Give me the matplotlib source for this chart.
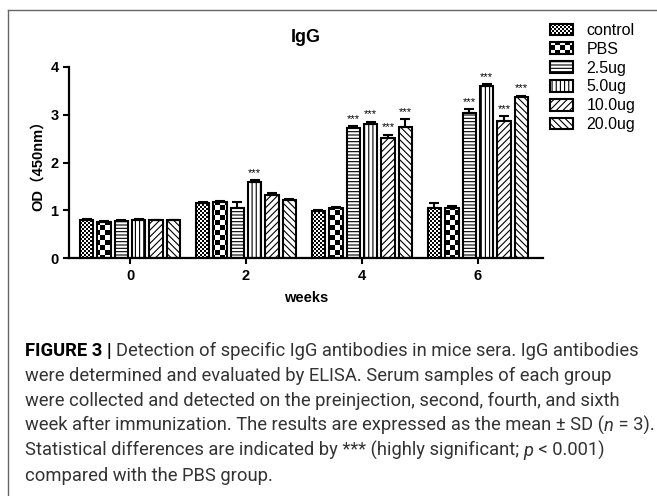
import numpy as np
import matplotlib
matplotlib.use('Agg')
import matplotlib.pyplot as plt
import matplotlib.hatch as mhatch
from matplotlib.path import Path
from matplotlib.lines import Line2D

# data
weeks = [0, 2, 4, 6]
groups = ['control', 'PBS', '2.5ug', '5.0ug', '10.0ug', '20.0ug']
control = [0.80, 1.16, 0.99, 1.06]
pbs = [0.76, 1.17, 1.06, 1.06]
ug2_5 = [0.77, 1.05, 2.72, 3.04]
ug5_0 = [0.80, 1.60, 2.80, 3.60]
ug10_0 = [0.79, 1.33, 2.51, 2.86]
ug20_0 = [0.79, 1.21, 2.75, 3.36]
sd_control = [0.03, 0.02, 0.02, 0.09]
sd_pbs = [0.02, 0.02, 0.02, 0.03]
sd_2_5 = [0.02, 0.12, 0.04, 0.07]
sd_5_0 = [0.02, 0.03, 0.05, 0.03]
sd_10_0 = [0.02, 0.04, 0.07, 0.11]
sd_20_0 = [0.02, 0.02, 0.15, 0.03]
# True where the bar gets "***"
sig = [
    [False, False, False, False],
    [False, False, False, False],
    [False, False, True, True],
    [False, True, True, True],
    [False, False, True, True],
    [False, False, True, True],
]

W, H = 657, 496
LW_HATCH = 0.8
plt.rcParams['hatch.linewidth'] = LW_HATCH
plt.rcParams['hatch.color'] = 'black'


# checkerboard hatch, takes the place of the 'O' pattern
class CheckerHatch(mhatch.HatchPatternBase):
    def __init__(self, hatch, density):
        n = hatch.count('O') * 10
        self.n = n
        self.cells = [(i, j) for i in range(n) for j in range(n) if (i + j) % 2 == 0]
        self.num_vertices = len(self.cells) * 5

    def set_vertices_and_codes(self, vertices, codes):
        s = 1.0 / self.n
        d = LW_HATCH * 100 / 72 / 2 / 100
        for k, (i, j) in enumerate(self.cells):
            x0, y0 = i * s + d, j * s + d
            x1, y1 = (i + 1) * s - d, (j + 1) * s - d
            vertices[5 * k:5 * k + 5] = [(x0, y0), (x1, y0), (x1, y1), (x0, y1), (x0, y0)]
            codes[5 * k:5 * k + 5] = [Path.MOVETO, Path.LINETO, Path.LINETO,
                                      Path.LINETO, Path.CLOSEPOLY]


mhatch._hatch_types[mhatch._hatch_types.index(mhatch.LargeCircles)] = CheckerHatch

values = [control, pbs, ug2_5, ug5_0, ug10_0, ug20_0]
sds = [sd_control, sd_pbs, sd_2_5, sd_5_0, sd_10_0, sd_20_0]
hatches = ['OOOOO', 'OO', '-----', '||||', '/////', '\\\\\\\\\\']

fig = plt.figure(figsize=(W / 100, H / 100), dpi=100)
ax = fig.add_axes([69 / W, 237.7 / H, (542.7 - 69) / W, (429.3 - 237.7) / H])

bold = dict(family=['Liberation Sans', 'Noto Sans CJK SC'], weight='bold')
x = np.array(weeks, dtype=float)
step, bw = 0.30, 0.23
for k in range(6):
    xs = x + (k - 2.5) * step
    ax.bar(xs, values[k], width=bw, color='white', edgecolor='black',
           linewidth=1.5, hatch=hatches[k], label=groups[k], zorder=2)
    ax.errorbar(xs, values[k], yerr=[np.zeros(4), sds[k]], fmt='none',
                ecolor='black', elinewidth=1.5, capsize=3.5, capthick=1.5, zorder=3)
    for i in range(4):
        if sig[k][i]:
            ax.text(xs[i], values[k][i] + sds[k][i] + 0.05, '***', ha='center',
                    va='bottom', fontsize=8, family='Liberation Sans')

ax.set_xlim(-1.052, 7.116)
ax.set_ylim(0, 4)
ax.set_xticks(weeks)
ax.set_yticks([0, 1, 2, 3, 4])
for s in ['top', 'right']:
    ax.spines[s].set_visible(False)
for s in ['left', 'bottom']:
    ax.spines[s].set_linewidth(1.6)
ax.tick_params(width=1.5, length=4, labelsize=10.5)
for lab in ax.get_xticklabels() + ax.get_yticklabels():
    lab.set_fontweight('bold')
    lab.set_family('Liberation Sans')
ax.set_ylabel('OD（450nm）', fontsize=10.5, **bold)
ax.yaxis.set_label_coords(-0.05, 0.5)
ax.set_xlabel('weeks', fontsize=10.5, **bold)
ax.xaxis.set_label_coords(0.5, -0.17)
fig.text(306 / W, 1 - 38 / H, 'IgG', ha='center', va='center', fontsize=13, **bold)

ax.legend(loc='upper left', bbox_to_anchor=(550 / W, 1 - 23 / H),
          bbox_transform=fig.transFigure, frameon=False, borderpad=0,
          borderaxespad=0, handlelength=1.45, handleheight=0.75,
          handletextpad=0.85, labelspacing=0.24,
          prop=dict(family='Liberation Sans', size=11.5))

# outer frame
fig.add_artist(Line2D([7.5 / W, 7.5 / W], [0, 1 - 10 / H], color='#666666', lw=1))
fig.add_artist(Line2D([7.5 / W, 1], [1 - 10 / H, 1 - 10 / H], color='#666666', lw=1))

# caption
cap_font = 'Roboto'
cap_color = '#333333'
renderer = fig.canvas.get_renderer()
lines = [
    [('FIGURE 3 | ', 'b'), ('Detection of specific IgG antibodies in mice sera. IgG antibodies', 'r')],
    [('were determined and evaluated by ELISA. Serum samples of each group', 'r')],
    [('were collected and detected on the preinjection, second, fourth, and sixth', 'r')],
    [('week after immunization. The results are expressed as the mean \u00b1 SD (', 'r'),
     ('n', 'i'), (' = 3).', 'r')],
    [('Statistical differences are indicated by *** (highly significant; ', 'r'),
     ('p', 'i'), (' < 0.001)', 'r')],
    [('compared with the PBS group.', 'r')],
]


def draw_line(parts, yb, size):
    xp = 25
    made = []
    for txt, st in parts:
        kw = dict(family=cap_font, fontsize=size, color=cap_color, weight='normal')
        if st == 'b':
            kw.update(weight='bold', color='black')
        elif st == 'i':
            kw.update(style='italic')
        t = fig.text(xp / W, 1 - yb / H, txt, ha='left', va='baseline', **kw)
        made.append(t)
        xp += t.get_window_extent(renderer).width
    return xp, made


# size the caption so the first line runs to the reference width
end, tmp = draw_line(lines[0], 356, 12)
for t in tmp:
    t.remove()
cap_size = 12 * (637 - 25) / (end - 25)
for li, parts in enumerate(lines):
    draw_line(parts, 356 + 25 * li, cap_size)

fig.savefig('out.png', dpi=100)
